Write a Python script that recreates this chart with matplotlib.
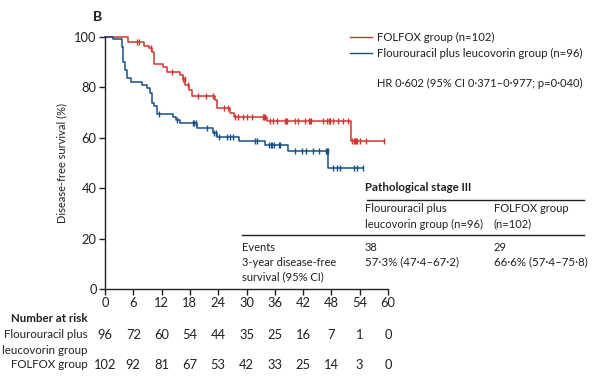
import numpy as np
import matplotlib
matplotlib.use("Agg")
import matplotlib.pyplot as plt

plt.rcParams['font.family'] = ['Lato', 'DejaVu Sans']

# ---------------- data ----------------
folfox_times = [0, 4.9, 8.3, 9.3, 9.9, 10.4, 12.2, 13.1, 15.9, 16.5, 17.0, 17.9, 18.4, 23.3, 23.7, 26.5, 27.3, 34.3, 52.1]
folfox_surv = [100, 97.9, 96.5, 95.8, 93.9, 89.2, 88.2, 86.0, 84.8, 83.2, 81.0, 79.0, 76.7, 75.0, 71.7, 69.7, 68.4, 66.5, 58.9]
folfox_end = 59.2
folfox_censor = [6.8, 7.2, 9.8, 14.3, 16.5, 16.9, 17.6, 19.7, 21.5, 22.9, 25.2, 26.1, 27.6, 28.3, 29.3,
                 30.0, 31.1, 33.6, 33.8, 34.0, 35.0, 35.7, 36.4, 38.2, 38.4, 38.6, 40.3, 41.0, 42.4,
                 43.3, 43.5, 43.7, 46.3, 47.0, 47.4, 47.7, 48.4, 49.5, 50.5, 51.6, 52.3, 52.8, 53.0,
                 53.2, 53.4, 54.1, 55.3, 59.1]

fu_times = [0, 1.8, 3.5, 3.9, 4.2, 4.6, 5.6, 7.8, 9.0, 9.5, 9.9, 10.3, 11.0, 14.5, 15.0, 15.9, 19.4, 23.0, 23.7, 28.5, 33.9, 38.9, 47.3]
fu_surv = [100, 99.1, 96.0, 90.2, 86.9, 83.6, 82.3, 81.0, 79.6, 77.6, 73.7, 72.7, 69.3, 68.1, 67.1, 65.8, 63.8, 61.8, 60.4, 58.9, 57.1, 54.6, 47.9]
fu_end = 54.8
fu_censor = [11.5, 15.2, 18.6, 18.9, 19.2, 21.6, 23.1, 23.5, 24.2, 25.9, 26.6, 27.2, 31.8, 32.2, 34.7,
             35.1, 35.4, 35.8, 36.9, 37.2, 40.3, 41.7, 42.7, 44.2, 45.4, 46.8, 47.0, 47.2, 48.4,
             49.1, 49.9, 52.8, 53.5, 54.8]

xticks = [0, 6, 12, 18, 24, 30, 36, 42, 48, 54, 60]
yticks = [0, 20, 40, 60, 80, 100]
risk_fu = [96, 72, 60, 54, 44, 35, 25, 16, 7, 1, 0]
risk_folfox = [102, 92, 81, 67, 53, 42, 33, 25, 14, 3, 0]

RED = '#d2352c'
BLUE = '#154f8a'
TXT = '#231f20'

W, H = 594, 386
fig = plt.figure(figsize=(W / 100, H / 100), dpi=100)


def fx(px):
    return px / W


def fy(py):
    return 1 - py / H


ax = fig.add_axes([fx(105), fy(289), fx(388) - fx(105), fy(37) - fy(289)])
ax.set_xlim(0, 60)
ax.set_ylim(0, 100)


def km(ax, times, surv, end, cens, color):
    t = list(times) + [end]
    s = list(surv) + [surv[-1]]
    ax.step(t, s, where='post', color=color, lw=1.1, clip_on=False)
    ct = np.array(cens)
    idx = np.searchsorted(np.array(times), ct, side='right') - 1
    cs = np.array(surv)[idx]
    ax.plot(ct, cs, ls='none', marker='|', ms=5, mew=1.0, color=color, clip_on=False)


km(ax, folfox_times, folfox_surv, folfox_end, folfox_censor, RED)
km(ax, fu_times, fu_surv, fu_end, fu_censor, BLUE)

for sp in ['top', 'right']:
    ax.spines[sp].set_visible(False)
for sp in ['left', 'bottom']:
    ax.spines[sp].set_color(TXT)
    ax.spines[sp].set_linewidth(1.0)
ax.set_xticks(xticks)
ax.set_yticks(yticks)
ax.tick_params(direction='out', length=4, width=1.0, color=TXT, labelcolor=TXT, labelsize=9.3, pad=2)
ax.set_ylabel('Disease-free survival (%)', fontsize=8, color=TXT, labelpad=5)

fs = 8

# panel letter
fig.text(fx(93), fy(17), 'B', fontsize=10, fontweight='bold', color=TXT, ha='left', va='center')

# legend
fig.add_artist(plt.Line2D([fx(350), fx(372)], [fy(37), fy(37)], color=RED, lw=1.0))
fig.add_artist(plt.Line2D([fx(350), fx(372)], [fy(53), fy(53)], color=BLUE, lw=1.0))
fig.text(fx(377), fy(37), 'FOLFOX group (n=102)', fontsize=8.2, color=TXT, va='center')
fig.text(fx(377), fy(53), 'Flourouracil plus leucovorin group (n=96)', fontsize=8.2, color=TXT, va='center')
fig.text(fx(377), fy(83), 'HR 0·602 (95% CI 0·371–0·977; p=0·040)', fontsize=8, color=TXT, va='center')

# table
fig.text(fx(365), fy(188), 'Pathological stage III', fontsize=8.3, fontweight='bold', color=TXT, va='center')
fig.add_artist(plt.Line2D([fx(367), fx(584)], [fy(200), fy(200)], color=TXT, lw=1.0))
fig.text(fx(365), fy(209), 'Flourouracil plus', fontsize=fs, color=TXT, va='center')
fig.text(fx(365), fy(224), 'leucovorin group (n=96)', fontsize=fs, color=TXT, va='center')
fig.text(fx(494), fy(209), 'FOLFOX group', fontsize=fs, color=TXT, va='center')
fig.text(fx(494), fy(224), '(n=102)', fontsize=fs, color=TXT, va='center')
fig.add_artist(plt.Line2D([fx(242), fx(584)], [fy(235), fy(235)], color=TXT, lw=1.0))
fig.text(fx(242), fy(247), 'Events', fontsize=fs, color=TXT, va='center')
fig.text(fx(242), fy(262), '3-year disease-free', fontsize=fs, color=TXT, va='center')
fig.text(fx(242), fy(277), 'survival (95% CI)', fontsize=fs, color=TXT, va='center')
fig.text(fx(365), fy(247), '38', fontsize=fs, color=TXT, va='center')
fig.text(fx(365), fy(262), '57·3% (47·4–67·2)', fontsize=8.3, color=TXT, va='center')
fig.text(fx(494), fy(247), '29', fontsize=fs, color=TXT, va='center')
fig.text(fx(494), fy(262), '66·6% (57·4–75·8)', fontsize=8.3, color=TXT, va='center')

# number at risk
fig.text(fx(88), fy(318), 'Number at risk', fontsize=8.3, fontweight='bold', color=TXT, ha='right', va='center')
fig.text(fx(88), fy(335), 'Flourouracil plus', fontsize=8.3, color=TXT, ha='right', va='center')
fig.text(fx(88), fy(350), 'leucovorin group', fontsize=8.3, color=TXT, ha='right', va='center')
fig.text(fx(88), fy(365), 'FOLFOX group', fontsize=8.3, color=TXT, ha='right', va='center')
for xt, a, b in zip(xticks, risk_fu, risk_folfox):
    xd = ax.transData.transform((xt, 0))[0]
    xf = fig.transFigure.inverted().transform((xd, 0))[0]
    fig.text(xf, fy(335), str(a), fontsize=9.3, color=TXT, ha='center', va='center')
    fig.text(xf, fy(365), str(b), fontsize=9.3, color=TXT, ha='center', va='center')

fig.savefig('out.png', dpi=100)
